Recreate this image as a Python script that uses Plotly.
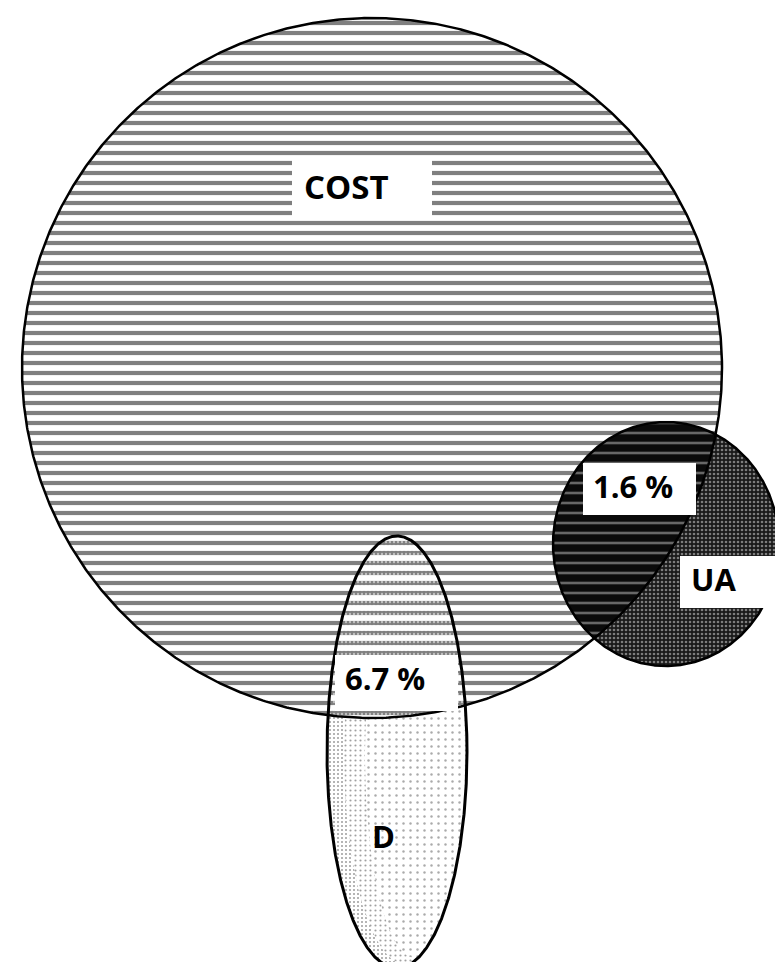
"""Venn-style overlap of COST, UA and D with hatched / stippled fills."""

import numpy as np
import plotly.graph_objects as go

# sets: name, centre and radii (in picture pixels, y downwards)
set_names = ["COST", "UA", "D"]
set_cx = [364, 658, 389]
set_cy = [360, 536, 744]
set_rx = [350, 113, 70]
set_ry = [350, 122, 216]

overlap_labels = ["1.6 %", "6.7 %"]  # COST∩UA, COST∩D

W, H = 783, 962
FONT = dict(family="Open Sans, Lato, sans-serif", size=31, color="black", weight="bold")


def ellipse(cx, cy, rx, ry, n=900):
    t = np.linspace(0, 2 * np.pi, n)
    return cx + rx * np.cos(t), cy + ry * np.sin(t)


def inside(x, y, e):
    cx, cy, rx, ry = e
    return ((x - cx) / rx) ** 2 + ((y - cy) / ry) ** 2 <= 1.0


def overlap(a, b):
    xa, ya = ellipse(*a)
    xb, yb = ellipse(*b)
    ma, mb = inside(xa, ya, b), inside(xb, yb, a)
    x = np.concatenate([xa[ma], xb[mb]])
    y = np.concatenate([ya[ma], yb[mb]])
    order = np.argsort(np.arctan2(y - y.mean(), x - x.mean()))
    x, y = x[order], y[order]
    return np.append(x, x[0]), np.append(y, y[0])


sets = [(set_cx[i], set_cy[i], set_rx[i], set_ry[i]) for i in range(3)]
cost, ua, d = sets

fig = go.Figure()


def area(xy, pattern):
    x, y = xy
    fig.add_trace(
        go.Scatter(
            x=x,
            y=y,
            mode="lines",
            fill="toself",
            fillcolor="rgba(0,0,0,0)",
            fillpattern=pattern,
            line=dict(width=0, color="rgba(0,0,0,0)"),
            hoverinfo="skip",
            showlegend=False,
        )
    )


# COST: horizontal hatching
area(ellipse(*cost), dict(shape="-", size=10, solidity=0.42, fgcolor="black", bgcolor="white"))

# UA: dark stipple
area(ellipse(*ua), dict(shape=".", size=4, solidity=0.34, fgcolor="#e0e0e0", bgcolor="#1a1a1a"))

# D: stipple, heavier towards the left edge
area(ellipse(*d), dict(shape=".", size=4, solidity=0.2, fgcolor="#3a3a3a", bgcolor="white"))
mid_core = (d[0] + 8, d[1] + 2, d[2] - 9, d[3] - 6)
area(overlap(d, mid_core), dict(shape=".", size=5, solidity=0.15, fgcolor="#444444", bgcolor="white"))
light_core = (d[0] + 18, d[1] + 4, d[2] - 20, d[3] - 14)
area(overlap(d, light_core), dict(shape=".", size=7, solidity=0.1, fgcolor="#555555", bgcolor="white"))

# COST ∩ UA: black with light dotted lines
area(overlap(cost, ua), dict(shape="-", size=10, solidity=0.26, fgcolor="#c4c4c4", bgcolor="#0a0a0a"))

# COST ∩ D: beaded hatch lines
cd = overlap(cost, d)
area(cd, dict(shape="-", size=10, solidity=0.42, fgcolor="black", bgcolor="white"))
area(cd, dict(shape=".", size=4, solidity=0.28, fgcolor="white", bgcolor="rgba(0,0,0,0)"))

# outlines on top
for e, w in zip(sets, [2.5, 2.5, 3]):
    x, y = ellipse(*e)
    fig.add_trace(
        go.Scatter(x=x, y=y, mode="lines", line=dict(color="black", width=w),
                   hoverinfo="skip", showlegend=False)
    )

# white label boxes and text
boxes = [
    (284, 150, 424, 209),
    (575, 455, 688, 507),
    (672, 548, 772, 600),
    (327, 647, 450, 703),
]
for x0, y0, x1, y1 in boxes:
    fig.add_shape(type="rect", x0=x0, y0=y0, x1=x1, y1=y1,
                  fillcolor="white", line=dict(width=0), layer="above")

texts = [
    (set_names[0], 338, 178, 33),
    (overlap_labels[0], 625, 478, 31),
    (set_names[1], 705, 571, 31),
    (overlap_labels[1], 377, 670, 31),
    (set_names[2], 375, 828, 31),
]
for t, tx, ty, fs in texts:
    fig.add_annotation(x=tx, y=ty, text=t, showarrow=False, font={**FONT, "size": fs},
                       xanchor="center", yanchor="middle")

fig.update_layout(
    width=W,
    height=H,
    margin=dict(l=0, r=0, t=0, b=0),
    plot_bgcolor="white",
    paper_bgcolor="white",
    xaxis=dict(range=[0, W], visible=False, fixedrange=True),
    yaxis=dict(range=[H, 0], visible=False, fixedrange=True),
)

fig.write_html("out.html")
